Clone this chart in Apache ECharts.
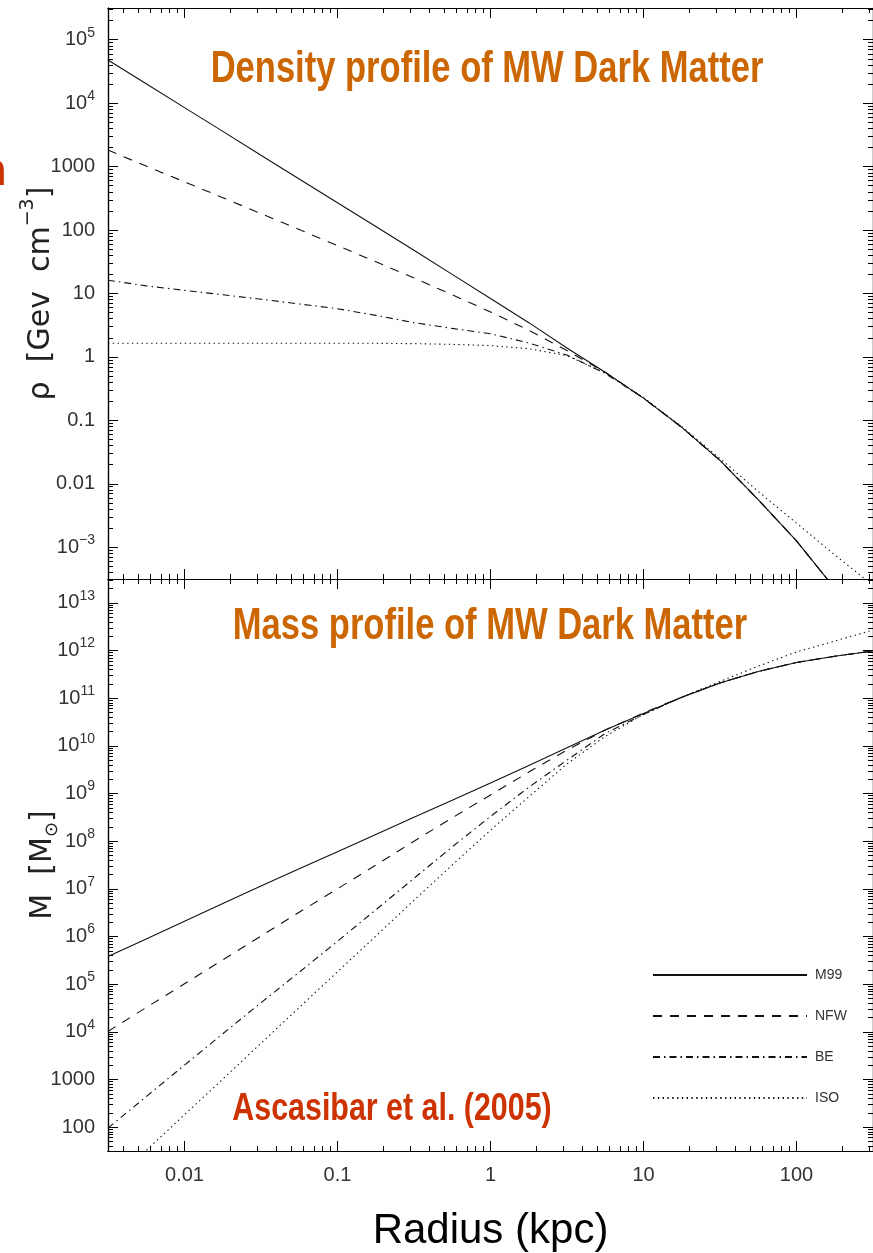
<!DOCTYPE html>
<html><head><meta charset="utf-8">
<script src="https://cdn.jsdelivr.net/npm/echarts@6/dist/echarts.min.js"></script>
<style>html,body{margin:0;padding:0;background:#fff}#c{width:873px;height:1253px}</style>
</head><body><div id="c"></div>
<script>
// ---- data ----
const radius = [0.00316, 0.00562, 0.01, 0.0178, 0.0316, 0.0562, 0.1, 0.178, 0.316, 0.562,
                1, 1.78, 3.16, 5.62, 10, 17.8, 31.6, 56.2, 100, 178, 316];

// density [GeV cm^-3]
const rhoM99 = [4.79e4, 2.02e4, 8.51e3, 3.59e3, 1.51e3, 638, 269, 114, 47.9, 20.0,
                8.32, 3.47, 1.38, 0.575, 0.224, 0.0776, 0.0234, 0.00562, 0.00126, 2.24e-4, 3.55e-5];
const rhoNFW = [1820, 1020, 575, 324, 182, 102, 56.9, 31.6, 17.6, 9.55,
                5.13, 2.63, 1.26, 0.575, 0.224, 0.0776, 0.0234, 0.00562, 0.00126, 2.24e-4, 3.55e-5];
const rhoBE  = [16.2, 13.2, 11.2, 9.55, 8.13, 6.84, 5.75, 4.52, 3.47, 2.82,
                2.32, 1.66, 1.07, 0.550, 0.224, 0.0776, 0.0234, 0.00562, 0.00126, 2.24e-4, 3.55e-5];
const rhoISO = [1.64, 1.64, 1.64, 1.64, 1.64, 1.64, 1.64, 1.64, 1.62, 1.58,
                1.51, 1.35, 1.05, 0.562, 0.229, 0.0794, 0.0251, 0.00759, 0.0024, 7.59e-4, 2.51e-4];

// enclosed mass [M_sun]
const massM99 = [3.80e5, 8.91e5, 2.09e6, 4.90e6, 1.15e7, 2.63e7, 6.03e7, 1.38e8, 3.16e8, 7.24e8,
                 1.66e9, 3.89e9, 9.12e9, 2.14e10, 4.79e10, 1.05e11, 2.09e11, 3.63e11, 5.62e11, 7.59e11, 9.77e11];
const massNFW = [1.02e4, 3.24e4, 1.02e5, 3.24e5, 1.02e6, 3.24e6, 1.0e7, 3.16e7, 1.0e8, 3.09e8,
                 9.33e8, 2.82e9, 8.13e9, 2.14e10, 4.90e10, 1.05e11, 2.09e11, 3.63e11, 5.62e11, 7.59e11, 9.77e11];
const massBE  = [95.5, 437, 2.0e3, 9.12e3, 4.07e4, 1.78e5, 7.94e5, 3.63e6, 1.66e7, 7.59e7,
                 3.31e8, 1.35e9, 5.01e9, 1.82e10, 4.57e10, 1.05e11, 2.09e11, 3.63e11, 5.62e11, 7.59e11, 9.77e11];
const massISO = [5.75, 32.4, 182, 1.02e3, 5.75e3, 3.24e4, 1.82e5, 1.02e6, 5.75e6, 3.16e7,
                 1.70e8, 8.51e8, 4.17e9, 1.58e10, 4.57e10, 1.05e11, 2.24e11, 4.68e11, 9.33e11, 1.58e12, 2.69e12];

const seriesNames = ['M99', 'NFW', 'BE', 'ISO'];

// tick values and labels
const xTicks = [0.01, 0.1, 1, 10, 100];
const xTickLabels = ['0.01', '0.1', '1', '10', '100'];
const rhoTicks = [1e-3, 0.01, 0.1, 1, 10, 100, 1000, 1e4, 1e5];
const rhoTickLabels = ['10^−3', '0.01', '0.1', '1', '10', '100', '1000', '10^4', '10^5'];
const massTicks = [100, 1000, 1e4, 1e5, 1e6, 1e7, 1e8, 1e9, 1e10, 1e11, 1e12, 1e13];
const massTickLabels = ['100', '1000', '10^4', '10^5', '10^6', '10^7', '10^8', '10^9', '10^10', '10^11', '10^12', '10^13'];

// ---- layout / style ----
const XR = [Math.pow(10, -2.5), Math.pow(10, 2.5)];
const RHO_R = [Math.pow(10, -3.5), Math.pow(10, 5.5)];
const MASS_R = [Math.pow(10, 1.5), Math.pow(10, 13.5)];
const INK = '#111';

function minorTicks(r) {
  const out = [];
  for (let e = Math.floor(Math.log10(r[0])); e <= Math.ceil(Math.log10(r[1])); e++) {
    for (let k = 2; k <= 9; k++) {
      const v = k * Math.pow(10, e);
      if (v > r[0] * 1.0001 && v < r[1] * 0.9999) out.push(v);
    }
  }
  return out;
}

const RICH = {
  b: {fontFamily: 'Liberation Sans', fontSize: 20, lineHeight: 28, color: '#333'},
  s: {fontFamily: 'Liberation Sans', fontSize: 14, lineHeight: 12, verticalAlign: 'top', color: '#333'}
};
function fmt(ticks, labels) {
  return function (v) {
    const i = ticks.findIndex(t => Math.abs(Math.log10(t) - Math.log10(v)) < 1e-6);
    if (i < 0) return '';
    const p = labels[i].split('^');
    return p.length > 1 ? '{b|' + p[0] + '}{s|' + p[1] + '}' : '{b|' + p[0] + '}';
  };
}

function mkAxis(grid, pos, range, ticks, len, label, extra) {
  return Object.assign({
    type: 'log', logBase: 10, gridIndex: grid, position: pos,
    min: range[0], max: range[1],
    axisLine: {show: true, onZero: false, lineStyle: {color: '#000', width: 1.2}},
    axisTick: {show: true, inside: true, length: len, customValues: ticks, lineStyle: {color: '#000', width: 1}},
    axisLabel: label ? Object.assign({show: true, customValues: ticks, rich: RICH}, label) : {show: false},
    splitLine: {show: false}, minorTick: {show: false}, minorSplitLine: {show: false},
    axisPointer: {show: false}, silent: true, nameMoveOverlap: false
  }, extra || {});
}

const xMinor = minorTicks(XR), rhoMinor = minorTicks(RHO_R), massMinor = minorTicks(MASS_R);

const xAxes = [
  mkAxis(0, 'bottom', XR, xTicks, 10, null),
  mkAxis(0, 'top', XR, xTicks, 10, null),
  mkAxis(0, 'bottom', XR, xMinor, 5, null),
  mkAxis(0, 'top', XR, xMinor, 5, null),
  mkAxis(1, 'bottom', XR, xTicks, 10, {margin: 10, formatter: fmt(xTicks, xTickLabels)}, {
    name: 'Radius (kpc)', nameLocation: 'middle', nameGap: 59,
    nameTextStyle: {fontFamily: 'Liberation Sans', fontSize: 42, color: '#000'}
  }),
  mkAxis(1, 'top', XR, xTicks, 10, null),
  mkAxis(1, 'bottom', XR, xMinor, 5, null),
  mkAxis(1, 'top', XR, xMinor, 5, null)
];

const yAxes = [
  mkAxis(0, 'left', RHO_R, rhoTicks, 10, {margin: 13, formatter: fmt(rhoTicks, rhoTickLabels)}, {
    name: '{a|ρ  [Gev  cm}{s|−3}{a|]}', nameLocation: 'middle', nameRotate: 90, nameGap: 45,
    nameTextStyle: {rich: {
      a: {fontFamily: 'DejaVu Sans', fontSize: 30, lineHeight: 44, color: '#222'},
      s: {fontFamily: 'DejaVu Sans', fontSize: 19, lineHeight: 10, verticalAlign: 'top', color: '#222'}
    }}
  }),
  mkAxis(0, 'right', RHO_R, rhoTicks, 10, null),
  mkAxis(0, 'left', RHO_R, rhoMinor, 5, null),
  mkAxis(0, 'right', RHO_R, rhoMinor, 5, null),
  mkAxis(1, 'left', MASS_R, massTicks, 10, {margin: 13, formatter: fmt(massTicks, massTickLabels)}, {
    name: '{a|M  [M}{c|⊙}{a|]}', nameLocation: 'middle', nameRotate: 90, nameGap: 47,
    nameTextStyle: {rich: {
      a: {fontFamily: 'DejaVu Sans', fontSize: 30, lineHeight: 36, color: '#222'},
      c: {fontFamily: 'DejaVu Sans', fontSize: 18, lineHeight: 20, verticalAlign: 'bottom', color: '#222'}
    }}
  }),
  mkAxis(1, 'right', MASS_R, massTicks, 10, null),
  mkAxis(1, 'left', MASS_R, massMinor, 5, null),
  mkAxis(1, 'right', MASS_R, massMinor, 5, null)
];

const dash = {M99: 'solid', NFW: [9, 8], BE: [7, 4, 1.5, 4], ISO: [1.4, 3.4]};
function mk(name, values, axisIdx) {
  return {
    name, type: 'line', xAxisIndex: axisIdx, yAxisIndex: axisIdx,
    data: radius.map((r, i) => [r, values[i]]),
    symbol: 'none', showSymbol: false, smooth: false, clip: true, silent: true,
    lineStyle: {color: INK, width: 1.1, type: dash[name]},
    itemStyle: {color: INK},
    emphasis: {disabled: true}
  };
}

const series = [
  mk('M99', rhoM99, 0), mk('NFW', rhoNFW, 0), mk('BE', rhoBE, 0), mk('ISO', rhoISO, 0),
  mk('M99', massM99, 4), mk('NFW', massNFW, 4), mk('BE', massBE, 4), mk('ISO', massISO, 4)
];

const boldFont = size => 'bold ' + size + 'px "Liberation Sans", Arial, sans-serif';
function label(text, x, y, size, sx, color, align) {
  return {type: 'text', x, y, scaleX: sx, scaleY: 1, silent: true,
    style: {text, font: boldFont(size), fill: color, align: align || 'center', verticalAlign: 'middle'}};
}

const chart = echarts.init(document.getElementById('c'), null, {renderer: 'canvas'});
chart.setOption({
  animation: false,
  backgroundColor: '#fff',
  grid: [
    {left: 108, top: 8, width: 770, height: 571},
    {left: 108, top: 579, width: 770, height: 573}
  ],
  xAxis: xAxes,
  yAxis: yAxes,
  legend: {
    data: seriesNames, orient: 'vertical', left: 647, top: 963,
    itemWidth: 154, itemHeight: 14, itemGap: 27, selectedMode: false,
    itemStyle: {opacity: 0},
    textStyle: {fontFamily: 'Liberation Sans', fontSize: 14, color: '#333', padding: [0, 0, 0, 3]}
  },
  graphic: [
    label('Density profile of MW Dark Matter', 487, 70, 44, 0.785, '#CC6600'),
    label('Mass profile of MW Dark Matter', 490, 627, 44, 0.785, '#CC6600'),
    label('Ascasibar et al. (2005)', 392, 1110, 38, 0.80, '#CC3300'),
    label('n', 6, 173, 44, 0.8, '#CC3300', 'right')
  ],
  series
});
</script></body></html>
